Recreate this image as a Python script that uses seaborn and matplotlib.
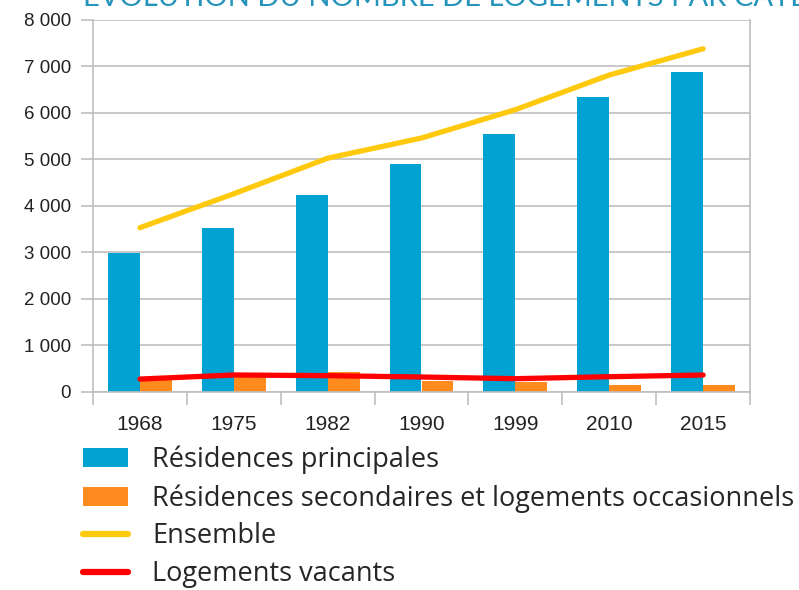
import numpy as np
import pandas as pd
import matplotlib
matplotlib.use("Agg")
import matplotlib.pyplot as plt
import seaborn as sns
from matplotlib.ticker import FuncFormatter, FixedLocator
from matplotlib.patches import Patch
from matplotlib.lines import Line2D

# --- Données ---
annees = ['1968', '1975', '1982', '1990', '1999', '2010', '2015']
principales = [2980, 3520, 4230, 4900, 5545, 6340, 6880]
secondaires = [270, 370, 430, 237, 202, 144, 144]
ensemble = [3530, 4260, 5025, 5460, 6070, 6815, 7380]
vacants = [272, 360, 345, 316, 280, 323, 359]

lab_princ = 'Résidences principales'
lab_sec = 'Résidences secondaires et logements occasionnels'
lab_ens = 'Ensemble'
lab_vac = 'Logements vacants'

BLEU = '#02A3D3'
ORANGE = '#FF8A1E'
JAUNE = '#FFC90E'
ROUGE = '#FF0000'
GRIS = '#BFBFBF'

sns.set_theme(style='white')
plt.rcParams['font.family'] = ['Liberation Sans', 'DejaVu Sans']

# tableau long pour les barres
bars_df = pd.DataFrame({
    'annee': annees * 2,
    'valeur': principales + secondaires,
    'serie': [lab_princ] * len(annees) + [lab_sec] * len(annees),
})
pos = np.arange(len(annees))
lines_df = pd.DataFrame({'x': pos, 'ens': ensemble, 'vac': vacants})

fig = plt.figure(figsize=(7.99, 5.90), dpi=100)
ax = fig.add_axes([93 / 799, 1 - 391.7 / 590, 657 / 799, 371.7 / 590])

sns.barplot(data=bars_df, x='annee', y='valeur', hue='serie', order=annees,
            palette=[BLEU, ORANGE], width=0.68, saturation=1, ax=ax,
            legend=False, linewidth=0, zorder=2)
sns.lineplot(data=lines_df, x='x', y='ens', color=JAUNE, lw=3.8, ax=ax,
             zorder=3)
sns.lineplot(data=lines_df, x='x', y='vac', color=ROUGE, lw=3.8, ax=ax,
             zorder=4)

ax.set_xlim(-0.5, len(annees) - 0.5)
ax.set_ylim(0, 8000)
ax.set_yticks(np.arange(0, 8001, 1000))
ax.yaxis.set_major_formatter(FuncFormatter(lambda v, p: f'{int(v):,}'.replace(',', ' ')))
ax.grid(axis='y', color=GRIS, lw=1.2, zorder=0)
ax.set_axisbelow(True)
ax.set_xlabel('')
ax.set_ylabel('')

# ticks x : traits aux limites des catégories, libellés au centre
ax.set_xticks(pos)
ax.set_xticklabels(annees)
ax.xaxis.set_minor_locator(FixedLocator(np.arange(-0.5, len(annees), 1)))
ax.tick_params(axis='x', which='major', length=0, pad=17, labelsize=15,
               labelcolor='#222222')
ax.tick_params(axis='x', which='minor', length=9, width=1.2, color=GRIS,
               direction='out', bottom=True)
ax.tick_params(axis='y', length=9, width=1.2, color=GRIS, direction='out',
               left=True, pad=7, labelsize=13.5, labelcolor='#222222')

for side in ['left', 'bottom', 'right']:
    ax.spines[side].set_color(GRIS)
    ax.spines[side].set_linewidth(1.2)
ax.spines['top'].set_visible(False)

# titre coupé en haut de l'image (comme sur l'original)
fig.text(83 / 799, 1 - 6 / 590, 'ÉVOLUTION DU NOMBRE DE LOGEMENTS PAR CATÉGORIE',
         fontsize=21, color='#2594BB', va='baseline', ha='left',
         family=['Lato', 'DejaVu Sans'])

handles = [
    Patch(facecolor=BLEU, edgecolor='none'),
    Patch(facecolor=ORANGE, edgecolor='none'),
    Line2D([0], [0], color=JAUNE, lw=4.5),
    Line2D([0], [0], color=ROUGE, lw=4.5),
]
fig.legend(handles, [lab_princ, lab_sec, lab_ens, lab_vac],
           loc='upper left', bbox_to_anchor=(72 / 799, 1 - 435 / 590),
           frameon=False, prop={'family': ['Open Sans', 'DejaVu Sans'], 'size': 19.5},
           handlelength=1.67, handleheight=0.7, handletextpad=0.88,
           labelspacing=0.36, borderaxespad=0)

fig.savefig('out.png', dpi=100)
